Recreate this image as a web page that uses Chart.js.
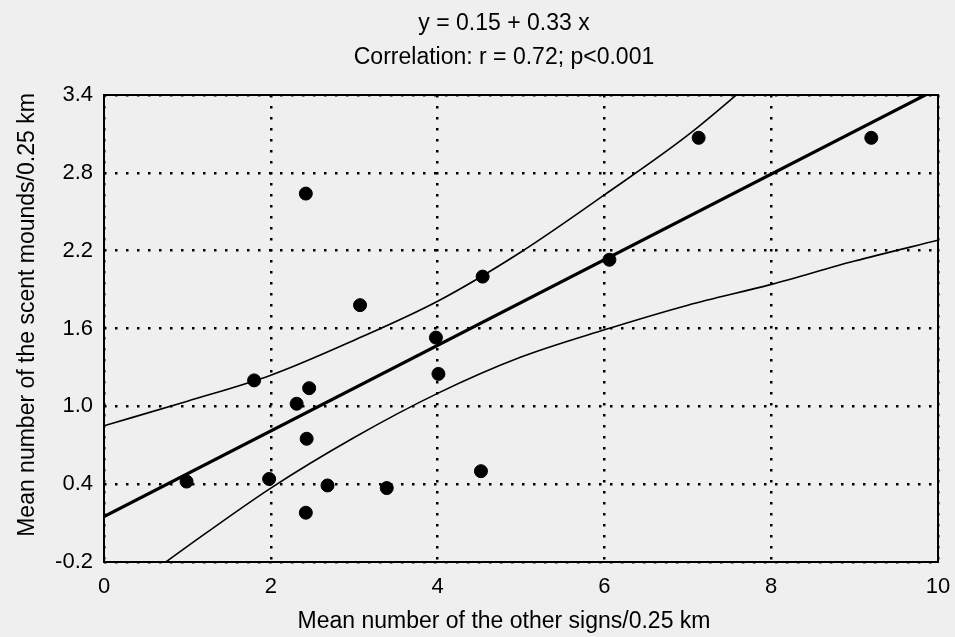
<!DOCTYPE html>
<html>
<head>
<meta charset="utf-8">
<script src="https://cdn.jsdelivr.net/npm/chart.js@4/dist/chart.umd.min.js"></script>
<style>
  html, body { margin: 0; padding: 0; background: #efefef; }
  #wrap { width: 955px; height: 637px; }
</style>
</head>
<body>
<div id="wrap"><canvas id="chart" width="955" height="637"></canvas></div>
<script>
// datos
const pointsX = [0.99, 1.80, 1.98, 2.31, 2.46, 2.43, 2.42, 2.42, 2.68, 3.07, 3.39, 3.98, 4.01, 4.52, 4.54, 6.06, 7.13, 9.20];
const pointsY = [0.42, 1.20, 0.44, 1.02, 1.14, 0.75, 0.18, 2.64, 0.39, 1.78, 0.37, 1.53, 1.25, 0.50, 2.00, 2.13, 3.07, 3.07];

// recta de regresion y = 0.15 + 0.33 x
const regX = [0, 10];
const regY = [0.15, 3.45];

// bandas de confianza
const upperX = [0, 1, 2, 3, 4, 5, 6, 7, 8];
const upperY = [0.85, 1.04, 1.24, 1.51, 1.81, 2.19, 2.63, 3.09, 3.63];
const lowerX = [0, 1, 2, 3, 4, 5, 6, 7, 8, 9, 10];
const lowerY = [-0.55, -0.08, 0.37, 0.76, 1.10, 1.38, 1.59, 1.78, 1.94, 2.12, 2.28];

const titleLines = ['y = 0.15 + 0.33 x', 'Correlation: r = 0.72; p<0.001'];
const xTitle = 'Mean number of the other signs/0.25 km';
const yTitle = 'Mean number of the scent mounds/0.25 km';

const FONT = '"Liberation Sans", Arial, sans-serif';

function toXY(xs, ys) {
    return xs.map((x, i) => ({ x: x, y: ys[i] }));
}

// marco y textos
const frameAndText = {
    id: 'frameAndText',
    beforeDraw(chart) {
        const ctx = chart.ctx;
        ctx.save();
        ctx.fillStyle = '#efefef';
        ctx.fillRect(0, 0, chart.width, chart.height);
        ctx.restore();
    },
    afterDraw(chart) {
        const ctx = chart.ctx;
        const a = chart.chartArea;
        ctx.save();
        ctx.strokeStyle = '#000';
        ctx.lineWidth = 2;
        ctx.strokeRect(a.left, a.top, a.right - a.left, a.bottom - a.top);

        ctx.fillStyle = '#000';
        ctx.font = '23px ' + FONT;
        ctx.textAlign = 'center';
        ctx.textBaseline = 'middle';
        ctx.fillText(titleLines[0], 504, 24);
        ctx.fillText(titleLines[1], 504, 58);
        ctx.fillText(xTitle, 504, 622);

        ctx.translate(28, 315);
        ctx.rotate(-Math.PI / 2);
        ctx.fillText(yTitle, 0, 0);
        ctx.restore();
    }
};

const dotted = {
    color: '#000',
    lineWidth: 2.5,
    drawTicks: false
};

new Chart(document.getElementById('chart'), {
    type: 'scatter',
    data: {
        datasets: [
            {
                label: 'datos',
                data: toXY(pointsX, pointsY),
                backgroundColor: '#000',
                borderColor: '#000',
                pointRadius: 6.5,
                pointHoverRadius: 6.5
            },
            {
                type: 'line',
                label: 'regresion',
                data: toXY(regX, regY),
                borderColor: '#000',
                borderWidth: 3.2,
                pointRadius: 0,
                fill: false
            },
            {
                type: 'line',
                label: 'superior',
                data: toXY(upperX, upperY),
                borderColor: '#000',
                borderWidth: 1.6,
                pointRadius: 0,
                cubicInterpolationMode: 'monotone',
                fill: false
            },
            {
                type: 'line',
                label: 'inferior',
                data: toXY(lowerX, lowerY),
                borderColor: '#000',
                borderWidth: 1.6,
                pointRadius: 0,
                cubicInterpolationMode: 'monotone',
                fill: false
            }
        ]
    },
    options: {
        responsive: false,
        animation: false,
        events: [],
        layout: { padding: { left: 0, right: 17, top: 95, bottom: 0 } },
        plugins: {
            legend: { display: false },
            title: { display: false },
            tooltip: { enabled: false }
        },
        scales: {
            x: {
                type: 'linear',
                min: 0,
                max: 10,
                afterFit(scale) { scale.height = 75; },
                border: { display: false, dash: [2.5, 8.5] },
                grid: dotted,
                ticks: {
                    stepSize: 2,
                    padding: 0,
                    color: '#000',
                    font: { family: FONT, size: 22, lineHeight: 2.3 }
                }
            },
            y: {
                type: 'linear',
                min: -0.2,
                max: 3.4,
                afterFit(scale) { scale.width = 104; },
                border: { display: false, dash: [2.5, 8.5] },
                grid: dotted,
                ticks: {
                    stepSize: 0.6,
                    padding: 11,
                    color: '#000',
                    font: { family: FONT, size: 22 },
                    callback: (v) => v.toFixed(1)
                }
            }
        }
    },
    plugins: [frameAndText]
});
</script>
</body>
</html>
